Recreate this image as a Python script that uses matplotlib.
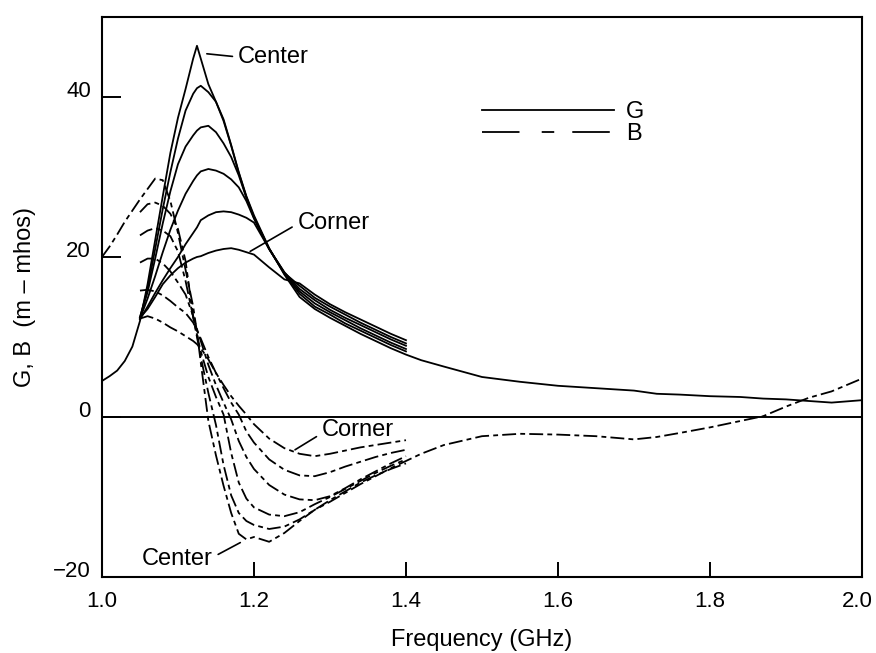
import matplotlib
matplotlib.use('Agg')
import matplotlib.pyplot as plt
from matplotlib.lines import Line2D
from matplotlib.transforms import ScaledTranslation

plt.rcParams['font.family'] = ['Liberation Sans', 'DejaVu Sans']
plt.rcParams['lines.scale_dashes'] = False

# frequency grid shared by the family of curves (GHz)
freq = [1.05, 1.06, 1.07, 1.08, 1.09, 1.10, 1.11, 1.12, 1.125, 1.13, 1.14, 1.15,
        1.16, 1.17, 1.18, 1.19, 1.20, 1.22, 1.24, 1.26, 1.28, 1.30, 1.32, 1.34,
        1.36, 1.38, 1.40]

# conductance G, center -> corner
g1 = [12.0, 16.6, 22.1, 27.6, 33.0, 37.4, 41.0, 44.8, 46.4, 44.8, 41.6, 39.4,
      37.2, 34.0, 30.6, 27.6, 25.2, 21.1, 17.8, 15.0, 13.5, 12.4, 11.4, 10.4,
      9.5, 8.6, 7.8]
g2 = [12.4, 16.0, 21.0, 26.0, 30.6, 34.8, 38.3, 40.4, 41.1, 41.4, 40.6, 39.4,
      37.0, 33.9, 30.5, 27.5, 25.0, 21.0, 17.9, 15.4, 13.8, 12.8, 11.7, 10.8,
      9.9, 9.0, 8.2]
g3 = [12.5, 15.6, 19.8, 24.2, 28.2, 31.6, 33.8, 35.2, 35.8, 36.2, 36.4, 35.6,
      34.2, 32.5, 30.2, 27.4, 24.9, 21.0, 18.0, 15.7, 14.2, 13.1, 12.1, 11.1,
      10.2, 9.3, 8.5]
g4 = [12.3, 14.8, 17.6, 20.6, 23.4, 25.8, 27.9, 29.5, 30.2, 30.7, 31.0, 30.8,
      30.4, 29.7, 28.7, 27.0, 24.8, 21.0, 18.1, 16.0, 14.6, 13.4, 12.4, 11.5,
      10.6, 9.7, 8.9]
g5 = [12.2, 13.8, 15.5, 17.1, 18.6, 20.0, 21.6, 23.0, 23.7, 24.6, 25.2, 25.6,
      25.7, 25.6, 25.3, 24.9, 24.3, 21.0, 18.0, 16.4, 14.9, 13.8, 12.8, 11.8,
      10.9, 10.0, 9.2]
g6 = [12.4, 13.5, 15.0, 16.6, 17.7, 18.6, 19.3, 19.8, 20.0, 20.1, 20.5, 20.8,
      21.0, 21.1, 20.9, 20.6, 20.3, 18.7, 17.2, 16.7, 15.3, 14.1, 13.1, 12.2,
      11.3, 10.4, 9.6]

# susceptance B, center -> corner
b1 = [27.2, 28.5, 29.8, 29.6, 27.0, 23.0, 18.4, 13.8, 10.6, 6.8, -0.5, -4.8,
      -8.6, -12.0, -14.6, -15.3, -15.0, -15.6, -14.5, -13.0, -11.6, -10.6, -9.5,
      -8.4, -7.4, -6.4, -5.5]
b2 = [25.6, 26.6, 26.8, 26.4, 25.4, 23.5, 19.5, 12.5, 10.0, 7.5, 3.0, -1.0,
      -6.0, -9.8, -12.0, -13.0, -13.5, -14.0, -13.7, -12.8, -11.6, -10.4, -9.3,
      -8.2, -7.3, -6.5, -5.8]
b3 = [22.7, 23.3, 23.6, 23.3, 22.6, 20.7, 17.0, 12.5, 10.3, 8.2, 5.0, 2.5,
      0.3, -4.5, -8.2, -10.2, -11.3, -12.2, -12.4, -11.9, -10.9, -10.0, -9.0,
      -8.0, -7.0, -6.1, -5.3]
b4 = [19.3, 19.8, 19.8, 19.2, 18.2, 16.8, 15.3, 12.6, 11.0, 9.5, 6.5, 4.0,
      1.8, -0.3, -3.0, -5.0, -6.5, -8.5, -9.7, -10.3, -10.4, -9.9, -8.9, -7.8,
      -6.8, -5.8, -4.9]
b5 = [15.8, 15.9, 15.7, 15.2, 14.5, 13.7, 13.0, 11.8, 10.8, 9.8, 7.5, 5.5,
      3.6, 1.8, 0.3, -1.8, -3.2, -5.3, -6.6, -7.3, -7.4, -6.9, -6.2, -5.6,
      -5.0, -4.5, -4.1]
b6 = [12.3, 12.6, 12.3, 11.8, 11.2, 10.7, 10.1, 9.5, 9.1, 8.6, 7.2, 5.5,
      4.0, 2.6, 1.4, 0.3, -0.9, -2.7, -3.9, -4.6, -4.9, -4.6, -4.2, -3.8,
      -3.5, -3.2, -2.9]

# the center curves were also measured below 1.05 and above 1.4 GHz
freq_lo = [1.00, 1.01, 1.02, 1.03, 1.04]
g_lo = [4.5, 5.1, 5.8, 7.0, 8.8]
b_lo = [20.0, 21.3, 22.8, 24.4, 25.8]

freq_hi = [1.42, 1.45, 1.50, 1.55, 1.60, 1.65, 1.70, 1.73, 1.76, 1.80, 1.84,
           1.87, 1.90, 1.93, 1.96, 2.00]
g_hi = [7.1, 6.3, 5.0, 4.4, 3.9, 3.6, 3.3, 2.9, 2.8, 2.6, 2.5, 2.3, 2.2, 2.0,
        1.8, 2.1]
b_hi = [-4.6, -3.5, -2.4, -2.1, -2.2, -2.4, -2.8, -2.5, -2.0, -1.3, -0.5, 0.1,
        1.3, 2.4, 3.2, 4.8]

g_curves = [g1, g2, g3, g4, g5, g6]
b_curves = [b1, b2, b3, b4, b5, b6]

x_ticks = [1.0, 1.2, 1.4, 1.6, 1.8, 2.0]
y_ticks = [-20, 0, 20, 40]
y_labels = ['\u221220', '0', '20', '40']

B_DASH = (10, 3, 3.5, 3)
FS = 17
TFS = 16
LW = 1.3

fig = plt.figure(figsize=(8.76, 6.53), dpi=100)
ax = fig.add_axes([0.1164, 0.1164, 0.8676, 0.8576])

for i, g in enumerate(g_curves):
    if i == 0:
        ax.plot(freq_lo + freq + freq_hi, g_lo + g + g_hi, color='black', lw=LW)
    else:
        ax.plot(freq, g, color='black', lw=LW)

for i, b in enumerate(b_curves):
    if i == 0:
        ax.plot(freq_lo + freq + freq_hi, b_lo + b + b_hi, color='black', lw=LW,
                dashes=B_DASH)
    else:
        ax.plot(freq, b, color='black', lw=LW, dashes=B_DASH)

ax.axhline(0, color='black', lw=1.4)

ax.set_xlim(1.0, 2.0)
ax.set_ylim(-20, 50)
ax.set_xticks(x_ticks)
ax.set_xticklabels(['%.1f' % v for v in x_ticks])
ax.set_yticks(y_ticks)
ax.set_yticklabels(y_labels)
ax.tick_params(axis='y', direction='in', length=14, width=1.4, pad=8, labelsize=TFS)
ax.tick_params(axis='x', direction='in', length=11, width=1.4, pad=10, labelsize=TFS)
for lbl in ax.get_yticklabels():
    lbl.set_verticalalignment('baseline')
# last x label sits against the page edge, nudge it inward a little
last = ax.get_xticklabels()[-1]
last.set_transform(last.get_transform() + ScaledTranslation(-5 / 100, 0, fig.dpi_scale_trans))
for s in ax.spines.values():
    s.set_linewidth(1.5)

ax.set_xlabel('Frequency (GHz)', fontsize=FS, labelpad=12)
ax.set_ylabel('G, B  (m \u2013 mhos)', fontsize=FS, labelpad=12)

line_kw = dict(arrowstyle='-', lw=1.2, color='black', shrinkA=2, shrinkB=0)
ax.annotate('Center', xy=(1.138, 45.4), xytext=(1.179, 45.0), fontsize=FS,
            ha='left', va='center', arrowprops=dict(relpos=(0, 0.5), **line_kw))
ax.annotate('Corner', xy=(1.195, 20.7), xytext=(1.257, 24.25), fontsize=FS,
            ha='left', va='center', arrowprops=dict(relpos=(0, 0.45), **line_kw))
ax.annotate('Corner', xy=(1.254, -4.1), xytext=(1.289, -1.65), fontsize=FS,
            ha='left', va='center', arrowprops=dict(relpos=(0, 0.35), **line_kw))
ax.annotate('Center', xy=(1.182, -15.7), xytext=(1.146, -17.8), fontsize=FS,
            ha='right', va='center', arrowprops=dict(relpos=(1, 0.6), **line_kw))

handles = [Line2D([], [], color='black', lw=LW),
           Line2D([], [], color='black', lw=LW, dashes=(27, 16, 9, 13))]
ax.legend(handles, ['G', 'B'], frameon=False, fontsize=FS, loc='upper left',
          bbox_to_anchor=(0.5, 0.85), borderpad=0, borderaxespad=0,
          handlelength=5.6, handletextpad=0.5, labelspacing=0.0)

fig.savefig('out.png', dpi=100)
